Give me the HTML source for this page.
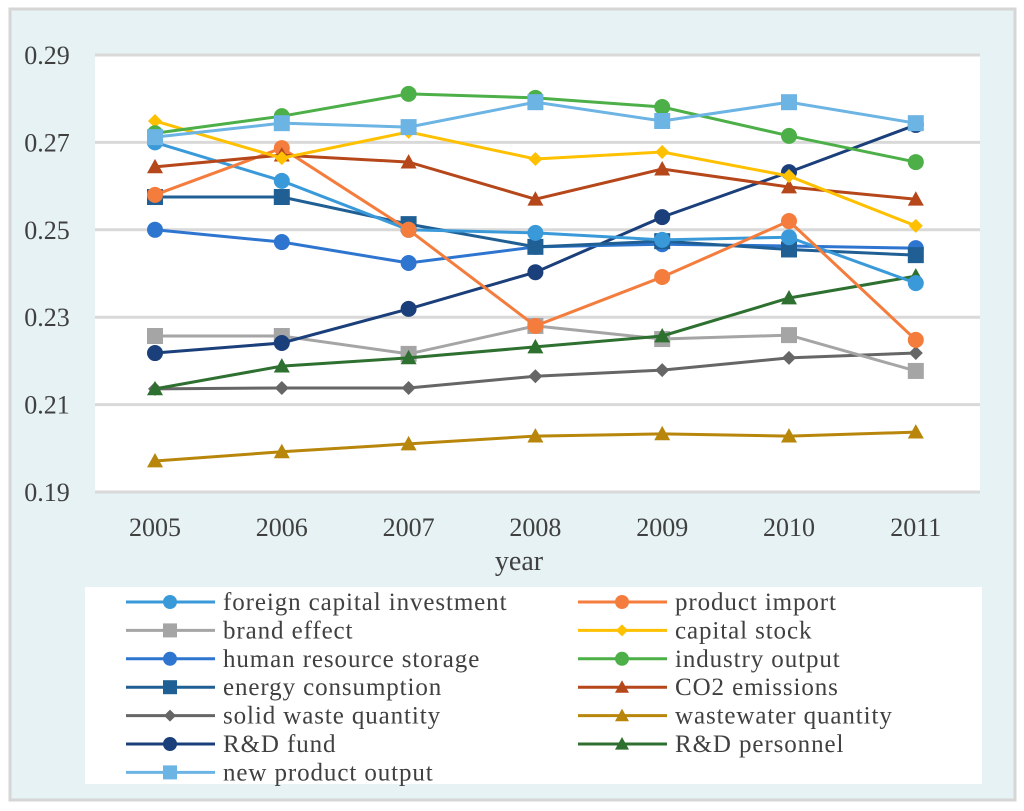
<!DOCTYPE html>
<html><head><meta charset="utf-8"><style>
html,body{margin:0;padding:0;background:#fff;}
svg{display:block;font-family:"Liberation Serif",serif;}
</style></head><body>
<svg id="chart" width="1024" height="811" xmlns="http://www.w3.org/2000/svg">
<rect x="10" y="9" width="1005" height="791" fill="#e6f2f3" stroke="#d6d6d6" stroke-width="3"/>
<rect x="95" y="55" width="885" height="437" fill="#fff"/>
<g id="grid"></g>
<g id="yticks"></g>
<g id="xticks"></g>
<text x="519" y="570" font-size="28" text-anchor="middle" fill="#404040">year</text>
<rect x="85" y="587" width="897" height="197" fill="#fff"/>
<g id="series"></g>
<g id="legend"></g>
</svg>
<script>
const years = ["2005","2006","2007","2008","2009","2010","2011"];
const yTicks = [0.19,0.21,0.23,0.25,0.27,0.29];
const yTickLabels = ["0.19","0.21","0.23","0.25","0.27","0.29"];
const foreignCapital = [0.2700,0.2612,0.2500,0.2493,0.2477,0.2483,0.2378];
const productImport = [0.2580,0.2687,0.2500,0.2280,0.2392,0.2520,0.2248];
const brandEffect = [0.2257,0.2257,0.2216,0.2280,0.2250,0.2259,0.2177];
const capitalStock = [0.2749,0.2664,0.2724,0.2662,0.2678,0.2623,0.2509];
const humanResource = [0.2500,0.2472,0.2424,0.2461,0.2467,0.2463,0.2458];
const industryOutput = [0.2721,0.2760,0.2811,0.2802,0.2781,0.2715,0.2655];
const energyConsumption = [0.2575,0.2575,0.2513,0.2461,0.2474,0.2455,0.2442];
const co2Emissions = [0.2644,0.2671,0.2655,0.2570,0.2639,0.2598,0.2570];
const solidWaste = [0.2136,0.2138,0.2138,0.2165,0.2179,0.2207,0.2218];
const wastewater = [0.1971,0.1992,0.2010,0.2028,0.2033,0.2028,0.2037];
const rdFund = [0.2218,0.2241,0.2319,0.2403,0.2529,0.2632,0.2740];
const rdPersonnel = [0.2136,0.2188,0.2207,0.2232,0.2257,0.2344,0.2394];
const newProduct = [0.2712,0.2744,0.2735,0.2792,0.2749,0.2792,0.2744];

const seriesDefs = [
 {name:"foreign capital investment",vals:foreignCapital,color:"#3a9ad9",m:"circle",id:"foreign-capital-investment"},
 {name:"product import",vals:productImport,color:"#f47c3c",m:"circle",id:"product-import"},
 {name:"brand effect",vals:brandEffect,color:"#a5a5a5",m:"square",id:"brand-effect"},
 {name:"capital stock",vals:capitalStock,color:"#ffc000",m:"diamond",id:"capital-stock"},
 {name:"human resource storage",vals:humanResource,color:"#2e75d0",m:"circle",id:"human-resource-storage"},
 {name:"industry output",vals:industryOutput,color:"#4caf47",m:"circle",id:"industry-output"},
 {name:"energy consumption",vals:energyConsumption,color:"#1f5f94",m:"square",id:"energy-consumption"},
 {name:"CO2 emissions",vals:co2Emissions,color:"#b5471a",m:"triangle",id:"co2-emissions"},
 {name:"solid waste quantity",vals:solidWaste,color:"#666666",m:"diamond",id:"solid-waste-quantity"},
 {name:"wastewater quantity",vals:wastewater,color:"#b8860b",m:"triangle",id:"wastewater-quantity"},
 {name:"R&D fund",vals:rdFund,color:"#1a3f7a",m:"circle",id:"rd-fund"},
 {name:"R&D personnel",vals:rdPersonnel,color:"#2e7030",m:"triangle",id:"rd-personnel"},
 {name:"new product output",vals:newProduct,color:"#6cb4e4",m:"square",id:"new-product-output"}
];
const drawOrder = [9,8,2,11,10,4,6,0,1,7,3,5,12];

const NS="http://www.w3.org/2000/svg";
const x0=155, xStep=126.8, yTop=55, yBot=492, vMin=0.19, vMax=0.29;
function xs(i){return x0+i*xStep;}
function ys(v){return yBot-(v-vMin)/(vMax-vMin)*(yBot-yTop);}
function mk(tag,attrs,parent){const e=document.createElementNS(NS,tag);for(const k in attrs)e.setAttribute(k,attrs[k]);parent.appendChild(e);return e;}
function marker(type,cx,cy,color,parent,s){
  let e;
  if(type==="circle") e=mk("circle",{cx:cx,cy:cy,r:s},parent);
  else if(type==="square") e=mk("rect",{x:cx-s,y:cy-s,width:2*s,height:2*s},parent);
  else if(type==="diamond") e=mk("polygon",{points:`${cx},${cy-s} ${cx+s},${cy} ${cx},${cy+s} ${cx-s},${cy}`},parent);
  else e=mk("polygon",{points:`${cx},${cy-s} ${cx+s},${cy+s*0.8} ${cx-s},${cy+s*0.8}`},parent);
  e.setAttribute("fill",color);
  return e;
}
const grid=document.getElementById("grid"), yt=document.getElementById("yticks"), xt=document.getElementById("xticks");
yTicks.forEach((t,i)=>{
  const l=mk("line",{x1:95,x2:980,y1:ys(t),y2:ys(t),stroke:"#d9d9d9","stroke-width":3},grid);
  
  
  const tx=mk("text",{x:47,y:ys(t)+9,"font-size":26,"text-anchor":"middle",fill:"#404040"},yt);
  tx.textContent=yTickLabels[i];
  
  
});
years.forEach((y,i)=>{
  const tx=mk("text",{x:xs(i),y:536,"font-size":26,"text-anchor":"middle",fill:"#404040"},xt);
  tx.textContent=y;
  
  
});
const sg=document.getElementById("series");
drawOrder.forEach(k=>{
  const s=seriesDefs[k];
  const g=mk("g",{},sg);
  
  
  const pts=s.vals.map((v,i)=>xs(i)+","+ys(v)).join(" ");
  mk("polyline",{points:pts,fill:"none",stroke:s.color,"stroke-width":3},g);
  s.vals.forEach((v,i)=>{
    const sz=s.m==="diamond"?7:8;
    const m=marker(s.m,xs(i),ys(v),s.color,g,sz);
    
    
  });
});
const lg=document.getElementById("legend");
seriesDefs.forEach((s,i)=>{
  const col=i%2, row=Math.floor(i/2);
  const lx=col===0?126:578, ty=602+row*28.4;
  const g=mk("g",{},lg);
  
  
  mk("line",{x1:lx,x2:lx+89,y1:ty,y2:ty,stroke:s.color,"stroke-width":3},g);
  marker(s.m,lx+44,ty,s.color,g,s.m==="diamond"?6:7);
  const t=mk("text",{x:lx+97,y:ty+8,"font-size":25,"letter-spacing":0.9,fill:"#404040"},g);
  t.textContent=s.name;
});
</script>
</body></html>
